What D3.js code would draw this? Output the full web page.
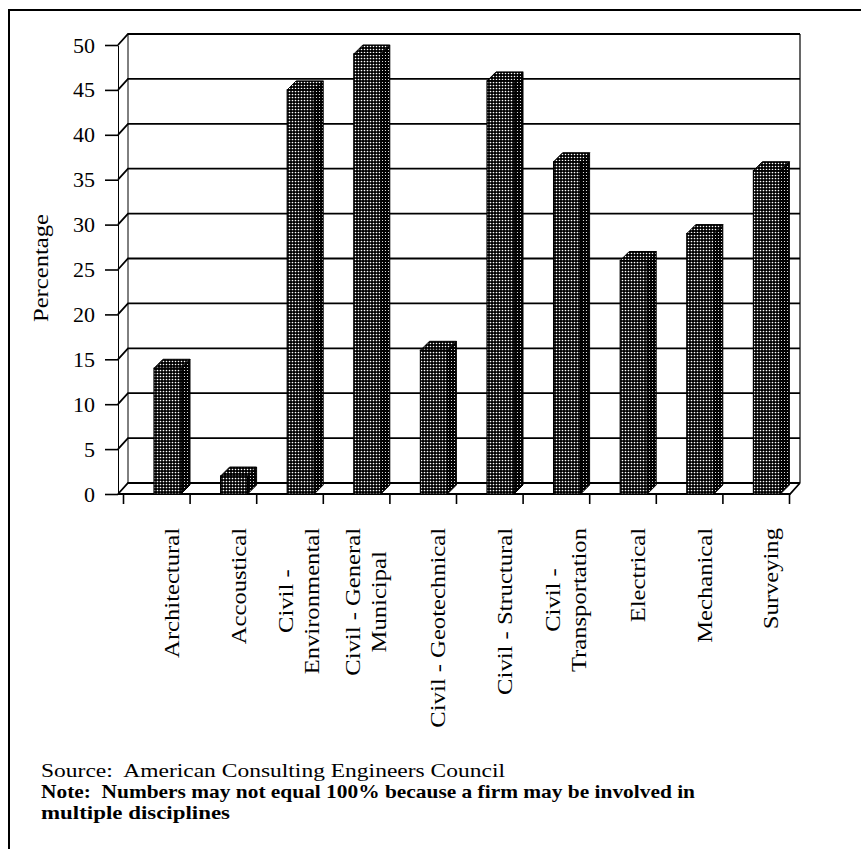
<!DOCTYPE html>
<html>
<head>
<meta charset="utf-8">
<script src="https://cdn.jsdelivr.net/npm/d3@7"></script>
<style>
  html, body { margin: 0; padding: 0; background: #fff; }
  svg { display: block; }
  text { font-family: "Liberation Serif", "Times New Roman", serif; fill: #000; }
</style>
</head>
<body>
<script>
// Share of consulting engineering firms by discipline (%)
const categories = [
  "Architectural", "Accoustical", "Civil - Environmental", "Civil - General Municipal",
  "Civil - Geotechnical", "Civil - Structural", "Civil - Transportation",
  "Electrical", "Mechanical", "Surveying"
];
const labelLines = [
  ["Architectural"], ["Accoustical"], ["Civil -", "Environmental"], ["Civil - General", "Municipal"],
  ["Civil - Geotechnical"], ["Civil - Structural"], ["Civil -", "Transportation"],
  ["Electrical"], ["Mechanical"], ["Surveying"]
];
const percentages = [14, 2, 45, 49, 16, 46, 37, 26, 29, 36];
const yTicks = [0, 5, 10, 15, 20, 25, 30, 35, 40, 45, 50];
const yTitle = "Percentage";
const sourceText = "Source:  American Consulting Engineers Council";
const noteLines = ["Note:  Numbers may not equal 100% because a firm may be involved in", "multiple disciplines"];

const W = 861, H = 849;
const svg = d3.select("body").append("svg").attr("width", W).attr("height", H);
svg.append("rect").attr("width", W).attr("height", H).attr("fill", "#fff");

// stippled fills for the 3-D columns
const defs = svg.append("defs");
function dots(id, r) {
  const p = defs.append("pattern").attr("id", id).attr("patternUnits", "userSpaceOnUse")
    .attr("width", 3).attr("height", 3);
  p.append("rect").attr("width", 3).attr("height", 3).attr("fill", "#000");
  p.append("circle").attr("cx", 1.5).attr("cy", 1.5).attr("r", r).attr("fill", "#fff");
}
dots("dotFront", 0.85);
dots("dotTop", 0.8);
dots("dotSide", 0.6);

// page frame
svg.append("path").attr("d", `M9,${H} L9,10 L${W},10`)
  .attr("fill", "none").attr("stroke", "#000").attr("stroke-width", 2);

// 3-D geometry: front plane vs. back wall offset
const wall = { dx: 10, dy: -11 };
const bar = { dx: 9, dy: -9, offset: 31, width: 27 };

const y = d3.scaleLinear().domain([0, 50]).range([494, 45]);
const x = d3.scaleBand().domain(categories).range([123, 789]);
const xEdge = d3.scaleLinear().domain([0, categories.length]).range([123, 789]);
const frontLeft = 118, frontRight = 790;

const walls = svg.append("g");
// back wall gridlines with their side-wall connectors
walls.selectAll("path.grid").data(yTicks).join("path")
  .attr("class", "grid")
  .attr("d", d => `M${frontLeft},${y(d)} L${frontLeft + wall.dx},${y(d) + wall.dy} L${frontRight + wall.dx},${y(d) + wall.dy}`)
  .attr("fill", "none").attr("stroke", "#000").attr("stroke-width", 1.8);
// back wall edges
walls.append("line")
  .attr("x1", frontLeft + wall.dx).attr("x2", frontLeft + wall.dx)
  .attr("y1", y(50) + wall.dy).attr("y2", y(0) + wall.dy)
  .attr("stroke", "#000").attr("stroke-width", 1);
walls.append("line")
  .attr("x1", frontRight + wall.dx).attr("x2", frontRight + wall.dx)
  .attr("y1", y(50) + wall.dy).attr("y2", y(0) + wall.dy)
  .attr("stroke", "#000").attr("stroke-width", 1.2);
// floor front and right edges
walls.append("path")
  .attr("d", `M${frontLeft},${y(0)} L${frontRight},${y(0)} L${frontRight + wall.dx},${y(0) + wall.dy}`)
  .attr("fill", "none").attr("stroke", "#000").attr("stroke-width", 1.8);

// columns
const bars = svg.append("g").selectAll("g").data(categories).join("g");
bars.each(function (c, i) {
  const g = d3.select(this);
  const v = percentages[i];
  const x0 = x(c) + bar.offset, x1 = x0 + bar.width;
  const yt = y(v), yb = y(0);
  g.append("path")
    .attr("d", `M${x1},${yt} L${x1 + bar.dx},${yt + bar.dy} L${x1 + bar.dx},${yb + bar.dy} L${x1},${yb} Z`)
    .attr("fill", "url(#dotSide)").attr("stroke", "#000").attr("stroke-width", 1);
  g.append("path")
    .attr("d", `M${x0},${yt} L${x0 + bar.dx},${yt + bar.dy} L${x1 + bar.dx},${yt + bar.dy} L${x1},${yt} Z`)
    .attr("fill", "url(#dotTop)").attr("stroke", "#000").attr("stroke-width", 1);
  g.append("rect")
    .attr("x", x0).attr("y", yt).attr("width", bar.width).attr("height", yb - yt)
    .attr("fill", "url(#dotFront)").attr("stroke", "#000").attr("stroke-width", 1.2);
});

// value axis on the front edge of the side wall
const yAxis = svg.append("g").attr("transform", `translate(${frontLeft},0)`)
  .call(d3.axisLeft(y).tickValues(yTicks).tickSize(13).tickSizeOuter(0).tickPadding(10).tickFormat(d3.format("d")));
yAxis.select(".domain").attr("stroke", "#000").attr("stroke-width", 1);
yAxis.selectAll(".tick line").attr("stroke", "#000").attr("stroke-width", 1.6);
yAxis.selectAll(".tick text").style("font-family", "'Liberation Serif', serif").style("font-size", "22px").attr("fill", "#000");

// category tick marks along the floor front edge
const xAxis = svg.append("g").attr("transform", `translate(0,${y(0)})`)
  .call(d3.axisBottom(xEdge).tickValues(d3.range(categories.length + 1)).tickSize(10).tickFormat(""));
xAxis.select(".domain").remove();
xAxis.selectAll(".tick line").attr("stroke", "#000").attr("stroke-width", 1.6);

// rotated category labels, lines centred within each label block
const stretch = 1.12;
const labelTop = 528, lineGap = 26, baseShift = 8;
const labels = svg.append("g").selectAll("g").data(categories).join("g")
  .attr("transform", (c, i) => {
    const cx = x(c) + 48 - (labelLines[i].length > 1 ? 6 : 0);
    return `translate(${cx},${labelTop}) rotate(-90) scale(${stretch},1)`;
  });
labels.each(function (c, i) {
  const g = d3.select(this);
  const lines = labelLines[i];
  const texts = lines.map((t, j) => g.append("text")
    .attr("y", baseShift + (j - (lines.length - 1) / 2) * lineGap)
    .attr("text-anchor", "middle")
    .style("font-size", "22px")
    .text(t));
  const maxLen = d3.max(texts, t => t.node().getComputedTextLength());
  texts.forEach(t => t.attr("x", -maxLen / 2));
});

// axis title
svg.append("text")
  .attr("transform", `translate(48,268) rotate(-90) scale(${stretch},1)`)
  .attr("text-anchor", "middle")
  .style("font-size", "22px")
  .text(yTitle);

// footnotes, set to their printed line widths
svg.append("text")
  .attr("x", 41).attr("y", 777)
  .attr("textLength", 464).attr("lengthAdjust", "spacingAndGlyphs")
  .style("font-size", "19px").style("white-space", "pre")
  .text(sourceText);
const noteWidths = [654, 189];
noteLines.forEach((t, i) => {
  svg.append("text")
    .attr("x", 41).attr("y", 798 + i * 21)
    .attr("textLength", noteWidths[i]).attr("lengthAdjust", "spacingAndGlyphs")
    .style("font-size", "19px").style("font-weight", "bold").style("white-space", "pre")
    .text(t);
});
</script>
</body>
</html>
